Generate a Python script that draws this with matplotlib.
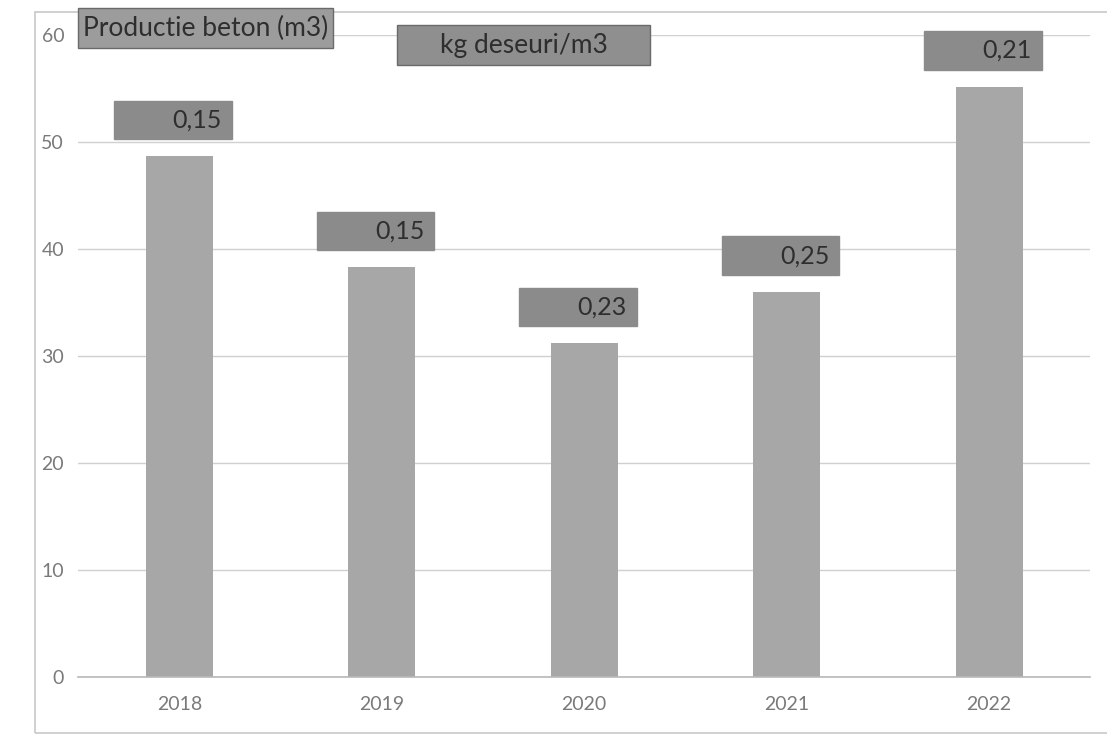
import matplotlib
matplotlib.use('Agg')
import matplotlib.pyplot as plt
from matplotlib.patches import Rectangle

years      = ['2018', '2019', '2020', '2021', '2022']
productie  = [48.7, 38.3, 31.2, 36.0, 55.2]
deseuri    = ['0,15', '0,15', '0,23', '0,25', '0,21']
yticks     = [0, 10, 20, 30, 40, 50, 60]

bar_color   = '#a7a7a7'
label_color = '#8b8b8b'
text_gray   = '#7a7a7a'

plt.rcParams['font.family'] = ['Lato', 'DejaVu Sans']

fig = plt.figure(figsize=(11.07, 7.35), dpi=100)
ax = fig.add_axes([0.0705, 0.079, 0.9145, 0.873])

x = list(range(len(years)))
ax.bar(x, productie, width=0.33, color=bar_color, zorder=2)

# value boxes (kg deseuri/m3) above each bar
box_w, box_h, gap = 0.58, 3.6, 1.6
for xi, val, lab in zip(x, productie, deseuri):
	left = xi - 0.03 - box_w / 2
	bottom = val + gap
	ax.add_patch(Rectangle((left, bottom), box_w, box_h, color=label_color,
		zorder=3, clip_on=False))
	ax.text(left + box_w - 0.05, bottom + box_h / 2, lab, ha='right', va='center',
		fontsize=18, color='#2e2e2e', zorder=4, clip_on=False)

ax.set_xlim(-0.5, len(years) - 0.5)
ax.set_ylim(0, 60)
ax.set_yticks(yticks)
ax.set_xticks(x)
ax.set_xticklabels(years)
ax.tick_params(axis='both', length=0, labelsize=14, colors=text_gray)
ax.tick_params(axis='x', pad=14)
ax.tick_params(axis='y', pad=10)
ax.grid(axis='y', color='#d0d0d0', linewidth=1.0, zorder=0)
for s in ['top', 'right', 'left']:
	ax.spines[s].set_visible(False)
ax.spines['bottom'].set_color('#b8b8b8')
ax.spines['bottom'].set_linewidth(1.2)

# chart frame
fig.patches.append(Rectangle((35 / 1107, 0.003), 1.0, 1 - 0.003 - 12 / 735,
	transform=fig.transFigure, fill=False, edgecolor='#c8c8c8', linewidth=1.2))

# series name boxes
W, H = 1107, 735
def name_box(x0, y0, x1, y1, text, color):
	fig.patches.append(Rectangle((x0 / W, 1 - y1 / H), (x1 - x0) / W, (y1 - y0) / H,
		transform=fig.transFigure, facecolor=color, edgecolor='#6a6a6a',
		linewidth=1.0, zorder=5))
	fig.text((x0 + x1) / 2 / W, 1 - (y0 + y1) / 2 / H, text, ha='center', va='center',
		fontsize=19, color='#2e2e2e', zorder=6)

name_box(78, 8, 333, 48, 'Productie beton (m3)', '#9c9c9c')
name_box(397, 25, 650, 65, 'kg deseuri/m3', '#8f8f8f')

fig.savefig('out.png', dpi=100)
